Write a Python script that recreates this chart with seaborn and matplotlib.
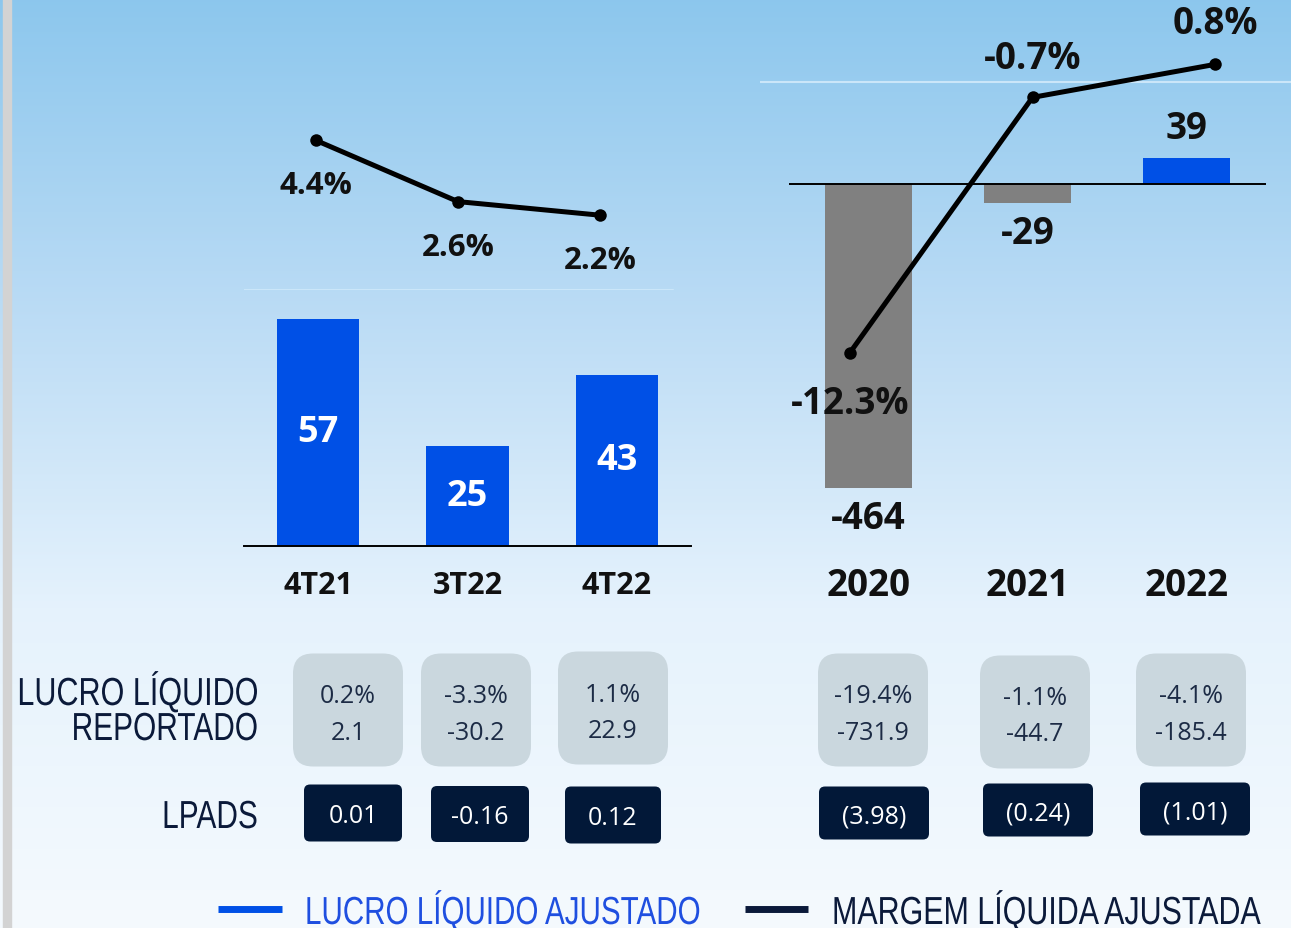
import numpy as np
import pandas as pd
import matplotlib
matplotlib.use("Agg")
import matplotlib.pyplot as plt
import seaborn as sns
from matplotlib.patches import FancyBboxPatch
from matplotlib.lines import Line2D
from matplotlib.patheffects import AbstractPathEffect
from matplotlib.transforms import Affine2D

# ---------------- data ----------------
quarters = ["4T21", "3T22", "4T22"]
q_lucro = [57, 25, 43]
q_margem = [4.4, 2.6, 2.2]
years = ["2020", "2021", "2022"]
y_lucro = [-464, -29, 39]
y_margem = [-12.3, -0.7, 0.8]
q_rep_pct = ["0.2%", "-3.3%", "1.1%"]
q_rep_val = ["2.1", "-30.2", "22.9"]
y_rep_pct = ["-19.4%", "-1.1%", "-4.1%"]
y_rep_val = ["-731.9", "-44.7", "-185.4"]
q_lpads = ["0.01", "-0.16", "0.12"]
y_lpads = ["(3.98)", "(0.24)", "(1.01)"]
row_labels = ["LUCRO LÍQUIDO", "REPORTADO", "LPADS"]
legend_labels = ["LUCRO LÍQUIDO AJUSTADO", "MARGEM LÍQUIDA AJUSTADA"]

# ---------------- style ----------------
W, H = 1291, 929
BLUE = "#0050E6"
GRAY = "#808080"
NAVY = "#0B1A3A"
BOXGRAY = "#CAD7DE"
BOXNAVY = "#021838"
FAINT = "#CBE6F9"
TXT = "#111111"

sns.set_theme(style="white")
plt.rcParams["font.family"] = ["Open Sans", "DejaVu Sans"]
NARROW = "Liberation Sans"

fig = plt.figure(figsize=(W / 100, H / 100), dpi=100)


def rect(x0, y0, x1, y1):
    return [x0 / W, 1 - y1 / H, (x1 - x0) / W, (y1 - y0) / H]


def fpx(x, y):
    return x / W, 1 - y / H


class VStretch(AbstractPathEffect):
    """Stretch glyphs vertically about their baseline (gives a condensed look)."""

    def __init__(self, sy):
        super().__init__()
        self.sy = sy

    def draw_path(self, renderer, gc, tpath, affine, rgbFace=None):
        renderer.draw_path(gc, tpath, Affine2D().scale(1, self.sy) + affine, rgbFace)


def narrow_text(x, y_base, s, size, cap_px, color, ha):
    sy = cap_px / (0.716 * size * 100 / 72)
    fig.text(*fpx(x, y_base), s, ha=ha, va="baseline", fontsize=size, color=color,
             family=NARROW, path_effects=[VStretch(sy)])


# background gradient
bg = fig.add_axes([0, 0, 1, 1], zorder=-10)
pos = np.array([0.0, 0.33, 0.66, 1.0])
cols = np.array([[0.55, 0.78, 0.93],
                 [0.73, 0.86, 0.96],
                 [0.90, 0.95, 0.99],
                 [0.96, 0.98, 0.995]])
t = np.linspace(0, 1, 400)
grad = np.stack([np.interp(t, pos, cols[:, c]) for c in range(3)], axis=-1)
grad = np.repeat(grad[:, None, :], 2, axis=1)
bg.imshow(grad, aspect="auto", extent=[0, 1, 0, 1], origin="upper")
bg.axvspan(3 / W, 11 / W, color="#D3D3D3")
bg.set_xlim(0, 1)
bg.set_ylim(0, 1)
bg.axis("off")


def clean(ax):
    ax.patch.set_visible(False)
    for s in ax.spines.values():
        s.set_visible(False)
    ax.set_xlabel("")
    ax.set_ylabel("")
    ax.set_yticks([])


# ---------------- left bars ----------------
axL = fig.add_axes(rect(244, 290, 691, 547))
dfq = pd.DataFrame({"cat": quarters, "lucro": q_lucro})
sns.barplot(data=dfq, x="cat", y="lucro", color=BLUE, saturation=1, width=0.555,
            linewidth=0, ax=axL)
clean(axL)
axL.set_xlim(-0.495, 2.495)
axL.set_ylim(0, 64.5)
axL.spines["bottom"].set_visible(True)
axL.spines["bottom"].set_color("black")
axL.spines["bottom"].set_linewidth(1.4)
axL.tick_params(axis="x", length=0, pad=17.5)
for lab in axL.get_xticklabels():
    lab.set_fontweight("bold")
    lab.set_fontsize(22)
    lab.set_color(TXT)
for i, v in enumerate(q_lucro):
    axL.text(i, v / 2, f"{v}", ha="center", va="center", color="white",
             fontsize=26, fontweight="bold")

# ---------------- right bars ----------------
axR = fig.add_axes(rect(789, 130, 1266, 500))
dfy = pd.DataFrame({"cat": years, "lucro": y_lucro})
pal = [BLUE if v > 0 else GRAY for v in y_lucro]
sns.barplot(data=dfy, x="cat", y="lucro", hue="cat", palette=pal, saturation=1,
            width=0.553, linewidth=0, legend=False, ax=axR)
clean(axR)
axR.set_xlim(-0.5, 2.5)
axR.set_ylim(-481, 84)
axR.axhline(0, color="black", lw=1.4)
axR.tick_params(axis="x", length=0, pad=48.5)
for lab in axR.get_xticklabels():
    lab.set_fontweight("bold")
    lab.set_fontsize(26.5)
    lab.set_color(TXT)
for i, v in enumerate(y_lucro):
    axR.annotate(f"{v}", (i, v), xytext=(0, 30 if v > 0 else -30),
                 textcoords="offset pixels", ha="center", va="center",
                 fontsize=26.5, fontweight="bold", color=TXT)

# ---------------- left margin line ----------------
axLL = fig.add_axes(rect(244, 100, 691, 291))
sns.lineplot(x=np.arange(len(q_margem)), y=q_margem, color="black", lw=3.6,
             marker="o", markersize=9, markeredgewidth=0, ax=axLL)
clean(axLL)
axLL.set_xticks([])
axLL.set_xlim((244 - 316) / 142, (691 - 316) / 142)
axLL.set_ylim(0, 191 / 34)
axLL.axhline(0, xmin=0, xmax=(673 - 244) / 447, color=FAINT, lw=1.5, zorder=0)
for i, v in enumerate(q_margem):
    axLL.annotate(f"{v}%", (i, v), xytext=(0, -45), textcoords="offset pixels",
                  ha="center", va="center", fontsize=22.5, fontweight="bold",
                  color=TXT, annotation_clip=False)

# ---------------- right margin line ----------------
axRL = fig.add_axes(rect(760, 0, 1291, 400))
sns.lineplot(x=np.arange(len(y_margem)), y=y_margem, color="black", lw=3.6,
             marker="o", markersize=9, markeredgewidth=0, ax=axRL)
clean(axRL)
axRL.set_xticks([])
axRL.set_xlim((760 - 850) / 182.5, (1291 - 850) / 182.5)
axRL.set_ylim(-(400 - 83) / 22, 83 / 22)
axRL.axhline(0, color=FAINT, lw=1.5, zorder=0)
offs = [-50, 39, 41]
for i, v in enumerate(y_margem):
    axRL.annotate(f"{v}%", (i, v), xytext=(0, offs[i]), textcoords="offset pixels",
                  ha="center", va="center", fontsize=26.5, fontweight="bold",
                  color=TXT, annotation_clip=False)


# ---------------- boxes ----------------
def rbox(cx, cy, w, h, color, r):
    p = FancyBboxPatch(((cx - w / 2) / 100, (H - cy - h / 2) / 100), w / 100, h / 100,
                       boxstyle=f"round,pad=0,rounding_size={r}",
                       transform=fig.dpi_scale_trans, facecolor=color,
                       edgecolor="none", zorder=1)
    fig.add_artist(p)


gray_cx = [348, 476, 613, 873, 1035, 1191]
gray_cy = [711, 711, 709, 711, 713, 711]
pcts = q_rep_pct + y_rep_pct
vals = q_rep_val + y_rep_val
for cx, cy, p, v in zip(gray_cx, gray_cy, pcts, vals):
    rbox(cx, cy, 110, 113, BOXGRAY, 0.2)
    fig.text(*fpx(cx, cy - 14), p, ha="center", va="center", fontsize=18, color="#1C2B45")
    fig.text(*fpx(cx, cy + 22), v, ha="center", va="center", fontsize=18, color="#1C2B45")

dark_cx = [353, 480, 613, 874, 1038, 1195]
dark_cy = [814, 815, 816, 814, 811, 810]
dark_w = [98, 98, 96, 110, 110, 110]
dark_h = [57, 56, 57, 53, 53, 53]
for cx, cy, w, h, s in zip(dark_cx, dark_cy, dark_w, dark_h, q_lpads + y_lpads):
    rbox(cx, cy, w, h, BOXNAVY, 0.06)
    fig.text(*fpx(cx, cy + 3), s, ha="center", va="center", fontsize=18, color="white")

# ---------------- row labels ----------------
narrow_text(258, 706, row_labels[0], 22, 28, NAVY, "right")
narrow_text(258, 741, row_labels[1], 21.5, 28, NAVY, "right")
narrow_text(258, 829, row_labels[2], 21.5, 28, NAVY, "right")

# ---------------- legend ----------------
for (x0, x1, tx, lab, c, tc, fs) in [(218, 282, 305, legend_labels[0], BLUE, "#1F4FE0", 21.3),
                                     (745, 808, 832, legend_labels[1], NAVY, NAVY, 21.9)]:
    fig.add_artist(Line2D([x0 / W, x1 / W], [1 - 910 / H, 1 - 910 / H],
                          transform=fig.transFigure, color=c, lw=5,
                          solid_capstyle="butt"))
    narrow_text(tx, 925, lab, fs, 28, tc, "left")

fig.savefig("out.png", dpi=100)
